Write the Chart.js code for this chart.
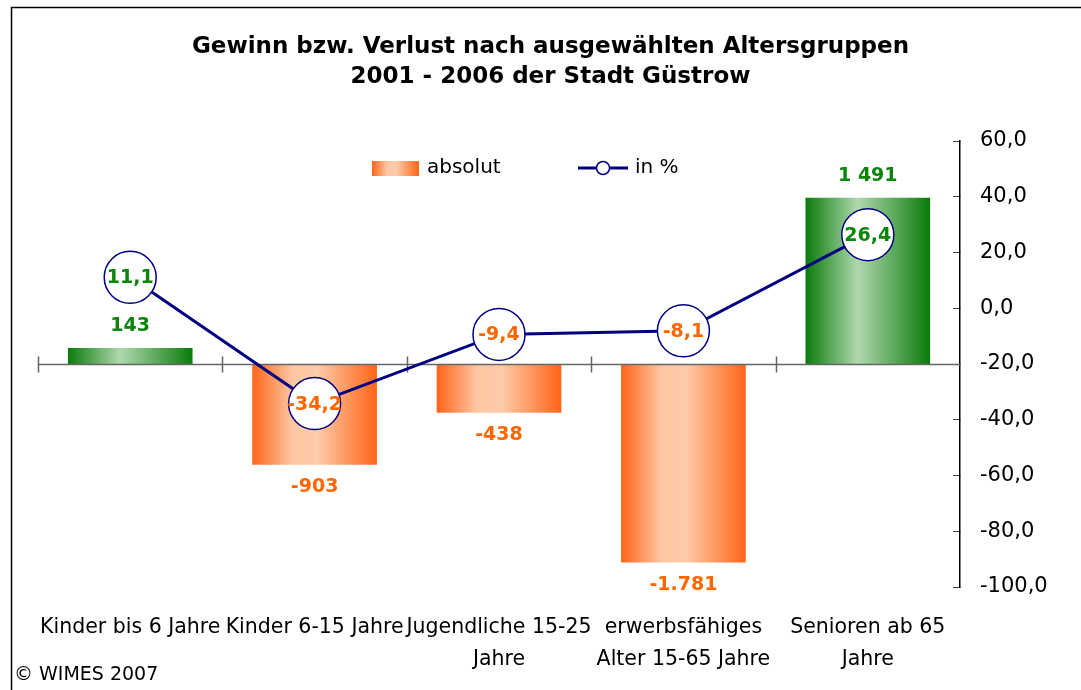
<!DOCTYPE html>
<html>
<head>
<meta charset="utf-8">
<script src="https://cdn.jsdelivr.net/npm/chart.js@4.4.1/dist/chart.umd.min.js"></script>
<style>
  html, body { margin: 0; padding: 0; background: #fff; }
</style>
</head>
<body>
<canvas id="mixChart" width="1081" height="690"></canvas>
<script>
// chart values
var categories = ['Kinder bis 6 Jahre', 'Kinder 6-15 Jahre', ['Jugendliche 15-25', 'Jahre'], ['erwerbsfähiges', 'Alter 15-65 Jahre'], ['Senioren ab 65', 'Jahre']];
var absValues = [143, -903, -438, -1781, 1491];
var absLabels = ['143', '-903', '-438', '-1.781', '1 491'];
var pctValues = [11.1, -34.2, -9.4, -8.1, 26.4];
var pctLabels = ['11,1', '-34,2', '-9,4', '-8,1', '26,4'];
var pctTickValues = [60, 40, 20, 0, -20, -40, -60, -80, -100];
var pctTickLabels = ['60,0', '40,0', '20,0', '0,0', '-20,0', '-40,0', '-60,0', '-80,0', '-100,0'];

var FONT = 'DejaVu Sans';
var GREEN = '#0a850a';
var ORANGE = '#ff6600';
var NAVY = '#000080';
var BAR_PCT = 0.676;

// horizontal gradient like the excel fill
function barGradient(ctx, x0, x1, positive) {
    var g = ctx.createLinearGradient(x0, 0, x1, 0);
    if (positive) {
        g.addColorStop(0, '#0a7b0a');
        g.addColorStop(0.42, '#b0d8ae');
        g.addColorStop(1, '#0a7b0a');
    } else {
        g.addColorStop(0, '#ff6418');
        g.addColorStop(0.32, '#fdc6a2');
        g.addColorStop(0.52, '#fdcba8');
        g.addColorStop(1, '#ff6418');
    }
    return g;
}

// axis line through zero of the bars, with crossing tick marks
var zeroAxis = {
    id: 'zeroAxis',
    afterDatasetDraw: function (chart, args) {
        if (args.index !== 0) return;
        var ctx = chart.ctx, area = chart.chartArea;
        var xs = chart.scales.x, ys = chart.scales.yAbs;
        var y0 = Math.round(ys.getPixelForValue(0)) + 0.5;
        var step = xs.width / categories.length;
        ctx.save();
        ctx.strokeStyle = '#666666';
        ctx.lineWidth = 1.5;
        ctx.beginPath();
        ctx.moveTo(area.left, y0);
        ctx.lineTo(area.right, y0);
        for (var i = 0; i < categories.length; i++) {
            var tx = Math.round(xs.getPixelForValue(i) - step / 2) + 0.5;
            ctx.moveTo(tx, y0 - 8);
            ctx.lineTo(tx, y0 + 8);
        }
        ctx.stroke();
        ctx.restore();
    }
};

// value labels for bars and the circled percent points
var valueLabels = {
    id: 'valueLabels',
    afterDatasetsDraw: function (chart) {
        var ctx = chart.ctx;
        ctx.save();
        ctx.textAlign = 'center';
        ctx.textBaseline = 'middle';
        ctx.font = 'bold 19px "' + FONT + '"';
        chart.getDatasetMeta(0).data.forEach(function (el, i) {
            var v = absValues[i];
            ctx.fillStyle = v >= 0 ? GREEN : ORANGE;
            ctx.fillText(absLabels[i], el.x, v >= 0 ? el.y - 22 : el.y + 22);
        });
        chart.getDatasetMeta(1).data.forEach(function (el, i) {
            ctx.fillStyle = pctValues[i] >= 0 ? GREEN : ORANGE;
            ctx.fillText(pctLabels[i], el.x, el.y + 1);
        });
        ctx.restore();
    }
};

// legend inside the plot, frame and source note
var decor = {
    id: 'decor',
    afterDraw: function (chart) {
        var ctx = chart.ctx;
        ctx.save();
        // legend
        ctx.fillStyle = barGradient(ctx, 372, 419, false);
        ctx.fillRect(372, 161, 47, 15);
        ctx.font = '20px "' + FONT + '"';
        ctx.fillStyle = '#000';
        ctx.textBaseline = 'middle';
        ctx.textAlign = 'left';
        ctx.fillText('absolut', 427, 168);
        ctx.strokeStyle = NAVY;
        ctx.lineWidth = 3;
        ctx.beginPath();
        ctx.moveTo(578, 168);
        ctx.lineTo(628, 168);
        ctx.stroke();
        ctx.beginPath();
        ctx.arc(603, 168, 6.5, 0, Math.PI * 2);
        ctx.fillStyle = '#fff';
        ctx.fill();
        ctx.lineWidth = 1.5;
        ctx.stroke();
        ctx.fillStyle = '#000';
        ctx.fillText('in %', 635, 168);
        // source
        ctx.font = '19px "' + FONT + '"';
        ctx.fillText('\u00A9 WIMES 2007', 14, 675);
        // frame
        ctx.strokeStyle = '#000';
        ctx.lineWidth = 1.5;
        ctx.strokeRect(11.5, 7.5, 1200, 800);
        ctx.restore();
    }
};

var ctx = document.getElementById('mixChart').getContext('2d');

var mixChart = new Chart(ctx, {
    type: 'bar',
    data: {
        labels: categories,
        datasets: [
            {
                type: 'bar',
                label: 'absolut',
                data: absValues,
                yAxisID: 'yAbs',
                order: 2,
                categoryPercentage: 1,
                barPercentage: BAR_PCT,
                borderWidth: 0,
                backgroundColor: function (c) {
                    var chart = c.chart, xs = chart.scales.x;
                    if (!chart.chartArea || !xs || c.dataIndex === undefined) return '#ff6418';
                    var cx = xs.getPixelForValue(c.dataIndex);
                    var half = (xs.width / categories.length) * BAR_PCT / 2;
                    return barGradient(chart.ctx, cx - half, cx + half, absValues[c.dataIndex] >= 0);
                }
            },
            {
                type: 'line',
                label: 'in %',
                data: pctValues,
                yAxisID: 'yPct',
                order: 1,
                borderColor: NAVY,
                borderWidth: 3,
                tension: 0,
                pointRadius: 26,
                pointHoverRadius: 26,
                pointBorderWidth: 1.5,
                pointBorderColor: NAVY,
                pointBackgroundColor: '#ffffff'
            }
        ]
    },
    options: {
        responsive: false,
        animation: false,
        events: [],
        layout: { padding: { left: 38, right: 18, top: 0, bottom: 0 } },
        plugins: {
            legend: { display: false },
            tooltip: { enabled: false },
            title: {
                display: true,
                text: ['Gewinn bzw. Verlust nach ausgewählten Altersgruppen', '2001 - 2006 der Stadt Güstrow'],
                color: '#000',
                font: { family: FONT, size: 23, weight: 'bold', lineHeight: 30 / 23 },
                padding: { top: 32, bottom: 49 }
            }
        },
        scales: {
            x: {
                type: 'category',
                offset: true,
                grid: { display: false },
                border: { display: false },
                ticks: {
                    autoSkip: false,
                    maxRotation: 0,
                    color: '#000',
                    padding: 17,
                    font: { family: FONT, size: 20.5, lineHeight: 32 / 20.5 }
                },
                afterFit: function (scale) { scale.height = 103; }
            },
            yAbs: {
                display: false,
                position: 'left',
                min: -2000,
                max: 2000
            },
            yPct: {
                position: 'right',
                min: -100,
                max: 60,
                grid: { drawOnChartArea: false, tickLength: -7, color: '#444', lineWidth: 1 },
                border: { display: true, color: '#000', width: 1.5 },
                ticks: {
                    stepSize: 20,
                    padding: 27,
                    color: '#000',
                    font: { family: FONT, size: 21 },
                    callback: function (v) {
                        var k = pctTickValues.indexOf(v);
                        return k >= 0 ? pctTickLabels[k] : '';
                    }
                },
                afterFit: function (scale) { scale.width = 103; }
            }
        }
    },
    plugins: [zeroAxis, valueLabels, decor]
});
</script>
</body>
</html>
